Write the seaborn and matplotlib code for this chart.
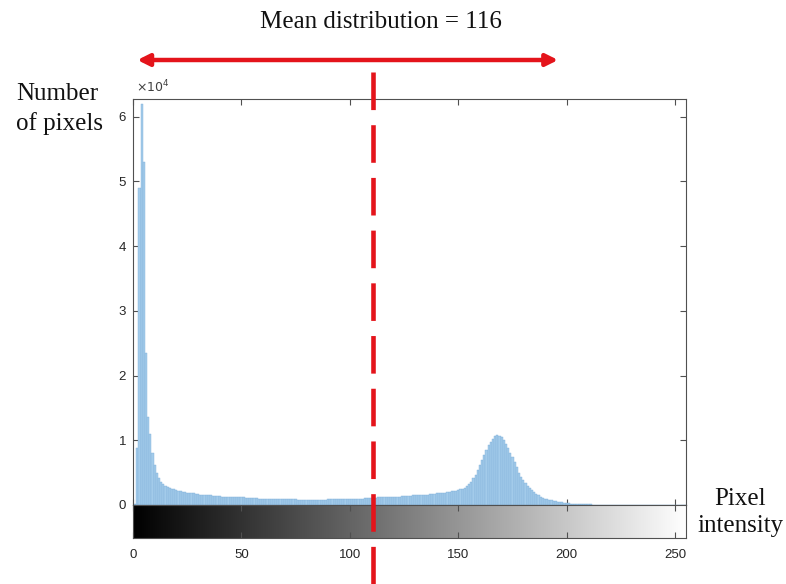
import numpy as np
import matplotlib
matplotlib.use("Agg")
import matplotlib.pyplot as plt
import matplotlib.transforms as mtransforms
from matplotlib.lines import Line2D
from matplotlib.patches import FancyArrowPatch, ArrowStyle
import seaborn as sns

# grey levels 0..255 and pixel counts per level (in units of 1e4)
levels = np.arange(256)
counts_1e4 = [
    0.00, 0.02, 0.88, 4.90, 6.20, 5.30, 2.35, 1.36, 1.10, 0.80, 0.62, 0.50, 0.42, 0.36, 0.32, 0.30,
    0.28, 0.26, 0.25, 0.24, 0.23, 0.22, 0.21, 0.20, 0.20, 0.19, 0.19, 0.18, 0.18, 0.17, 0.17, 0.16,
    0.16, 0.16, 0.15, 0.15, 0.15, 0.14, 0.14, 0.14, 0.14, 0.13, 0.13, 0.13, 0.13, 0.13, 0.12, 0.12,
    0.12, 0.12, 0.12, 0.12, 0.11, 0.11, 0.11, 0.11, 0.11, 0.11, 0.10, 0.10, 0.10, 0.10, 0.10, 0.10,
    0.10, 0.10, 0.09, 0.09, 0.09, 0.09, 0.09, 0.09, 0.09, 0.09, 0.09, 0.09, 0.08, 0.08, 0.08, 0.08,
    0.08, 0.08, 0.08, 0.08, 0.08, 0.08, 0.08, 0.08, 0.08, 0.08, 0.09, 0.09, 0.09, 0.09, 0.09, 0.09,
    0.09, 0.09, 0.10, 0.10, 0.10, 0.10, 0.10, 0.10, 0.10, 0.10, 0.10, 0.11, 0.11, 0.11, 0.11, 0.11,
    0.11, 0.12, 0.12, 0.12, 0.12, 0.12, 0.12, 0.13, 0.13, 0.13, 0.13, 0.13, 0.14, 0.14, 0.14, 0.14,
    0.14, 0.15, 0.15, 0.15, 0.15, 0.16, 0.16, 0.16, 0.16, 0.17, 0.17, 0.17, 0.18, 0.18, 0.18, 0.19,
    0.19, 0.20, 0.20, 0.21, 0.21, 0.22, 0.23, 0.24, 0.25, 0.27, 0.29, 0.32, 0.36, 0.41, 0.47, 0.54,
    0.62, 0.70, 0.78, 0.85, 0.92, 0.97, 1.02, 1.06, 1.08, 1.07, 1.05, 1.00, 0.95, 0.88, 0.80, 0.74,
    0.66, 0.58, 0.50, 0.44, 0.38, 0.34, 0.30, 0.27, 0.23, 0.20, 0.17, 0.15, 0.13, 0.11, 0.10, 0.09,
    0.08, 0.07, 0.06, 0.055, 0.05, 0.045, 0.04, 0.035, 0.03, 0.025, 0.02, 0.02, 0.015, 0.015, 0.01, 0.01,
    0.01, 0.01, 0.008, 0.008, 0.006, 0.006, 0.005, 0.005, 0.004, 0.004, 0.003, 0.003, 0.002, 0.002, 0.002, 0.002,
    0.001, 0.001, 0.001, 0.001, 0.001, 0.001, 0.001, 0.001, 0.001, 0.001, 0.001, 0.001, 0.001, 0.001, 0.001, 0.001,
    0, 0, 0, 0, 0, 0, 0, 0, 0, 0, 0, 0, 0, 0, 0, 0,
]
counts = np.array(counts_1e4) * 1e4

x_ticks = [0, 50, 100, 150, 200, 250]
y_ticks = [0, 1, 2, 3, 4, 5, 6]
mean_label = "Mean distribution = 116"
mean_line_x = 110.5
arrow_span = (2, 196)

sns.set_theme(style="white")
plt.rcParams['font.family'] = ['Liberation Sans', 'DejaVu Sans']
axis_grey = '#505050'

fig = plt.figure(figsize=(7.86, 5.84), dpi=100)
ax = fig.add_axes([0.1692, 0.1353, 0.7036, 0.6952])
cax = fig.add_axes([0.1692, 0.0788, 0.7036, 0.0565], sharex=ax)

# histogram
sns.histplot(x=levels, weights=counts, binwidth=1, binrange=(-0.5, 255.5),
             color='#a3cbea', edgecolor='#7fb0da', linewidth=0.3, alpha=1, ax=ax)
ax.set_xlim(0, 255)
ax.set_ylim(0, 6.275e4)
ax.set_yticks(np.array(y_ticks) * 1e4, labels=[str(t) for t in y_ticks])
ax.set_xticks(x_ticks)
ax.set_xlabel('')
ax.set_ylabel('')
ax.tick_params(axis='both', direction='in', length=4, width=0.8, color=axis_grey,
               labelcolor='#262626', labelsize=9.5, top=True, right=True, bottom=True, left=True,
               labelbottom=False, pad=5)
for sp in ax.spines.values():
    sp.set_color(axis_grey)
    sp.set_linewidth(0.8)
ax.text(0.005, 1.01, r'$\times10^{4}$', transform=ax.transAxes, ha='left', va='bottom',
        fontsize=9, color='#404040')

# grey-level strip under the histogram
cax.imshow(levels[np.newaxis, :], cmap='gray', aspect='auto', extent=(-0.5, 255.5, 0, 1))
cax.set_xlim(0, 255)
cax.set_yticks([])
cax.set_xticks(x_ticks, labels=[str(t) for t in x_ticks])
cax.tick_params(axis='x', direction='in', length=4, width=0.8, color=axis_grey,
                labelcolor='#262626', labelsize=9.5, top=True, bottom=True, pad=8)
for sp in cax.spines.values():
    sp.set_color(axis_grey)
    sp.set_linewidth(0.8)

# red dashed line marking the mean, drawn over both axes (from the top down)
trans = mtransforms.blended_transform_factory(ax.transData, fig.transFigure)
fig.add_artist(Line2D([mean_line_x, mean_line_x], [1 - 72 / 584, 0], transform=trans,
                      color='#e4141b', lw=3.3, dashes=(8.2, 3.3), zorder=5))

# double-headed arrow above the axes
arrow = FancyArrowPatch((arrow_span[0], 1 - 60 / 584), (arrow_span[1], 1 - 60 / 584),
                        transform=trans,
                        arrowstyle=ArrowStyle('<|-|>', head_length=0.7, head_width=0.35),
                        mutation_scale=10, color='#e4141b', lw=3.2,
                        shrinkA=0, shrinkB=0)
fig.add_artist(arrow)

serif = ['Liberation Serif', 'DejaVu Serif']
fig.text(381 / 786, 1 - 22 / 584, mean_label, ha='center', va='center',
         fontsize=18, family=serif, color='#111111')
fig.text(16 / 786, 1 - 100 / 584, "Number", ha='left', va='baseline',
         fontsize=18, family=serif, color='#111111')
fig.text(16 / 786, 1 - 130 / 584, "of pixels", ha='left', va='baseline',
         fontsize=18, family=serif, color='#111111')
fig.text(740 / 786, 1 - 505 / 584, "Pixel", ha='center', va='baseline',
         fontsize=18, family=serif, color='#111111')
fig.text(741 / 786, 1 - 532 / 584, "intensity", ha='center', va='baseline',
         fontsize=18, family=serif, color='#111111')

fig.savefig('out.png', dpi=100)
